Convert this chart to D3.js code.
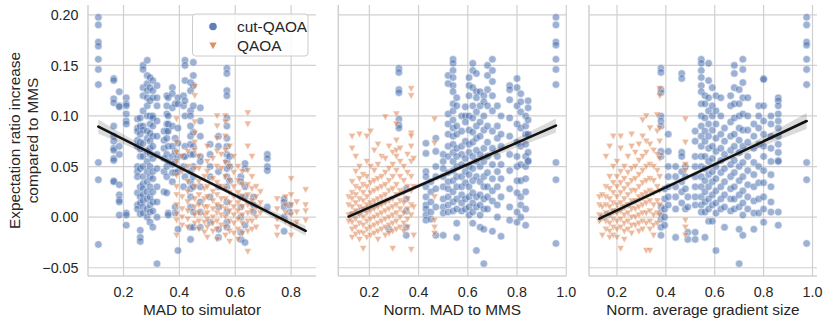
<!DOCTYPE html>
<html>
<head>
<meta charset="utf-8">
<script src="https://cdn.jsdelivr.net/npm/d3@7"></script>
<style>
  body { margin: 0; background: #fff; }
  text { font-family: "Liberation Sans", Arial, sans-serif; fill: #262626; }
</style>
</head>
<body>
<svg width="831" height="325"></svg>
<script>
// ---- data: [x, [y values at that x]] ----
const cutMad = [
  [0.11, [0.1975,0.190,0.173,0.169,0.156,0.146,0.131,0.054,0.037,-0.027]],
  [0.165,[0.137,0.135,0.117,0.113,0.090,0.080,0.075,0.068,0.066,0.058,0.056,0.036,0.035]],
  [0.185,[0.124,0.110,0.109,0.070,0.062,0.032,0.022,0.017,0.015,0.002]],
  [0.21, [0.118,0.112,0.110,0.102,0.095,0.092,0.004,0.002,-0.008]],
  [0.25, [0.097,0.088,0.085,0.076,0.070,0.050,0.045,0.040,0.024,0.012,0.008]],
  [0.26, [0.098,0.090,0.082,0.074,0.067,0.060,0.048,0.030,0.020,0.014,0.003,-0.013,-0.020,-0.024]],
  [0.27, [0.150,0.146,0.128,0.120,0.105,0.090,0.086,0.073,0.060,0.050,0.040,0.033,0.028,0.022,0.016,0.010,0.004]],
  [0.285,[0.155,0.140,0.132,0.125,0.118,0.110,0.100,0.085,0.078,0.065,0.055,0.045,0.035,0.025,0.018,0.008,0.000]],
  [0.295,[0.138,0.128,0.115,0.100,0.092,0.083,0.075,0.068,0.062,0.050,0.040,0.030,0.020,0.012,0.005,-0.005]],
  [0.305,[0.135,0.125,0.118,0.100,0.098,0.090,0.080,0.070,0.058,0.045,0.038,0.025,0.015,0.006,-0.010]],
  [0.32, [0.130,0.118,0.110,0.095,0.080,0.062,0.048,0.030,0.015,0.000,-0.046]],
  [0.345,[0.085,0.076,0.068,0.058,0.045,0.025]],
  [0.355,[0.120,0.110,0.102,0.092,0.085,0.078,0.062,0.050,0.040,0.024]],
  [0.36, [0.118,0.100,0.092,0.085,0.070,0.055,0.004,0.002]],
  [0.375,[0.128,0.122,0.108,0.090,0.070,0.060,0.052,0.044,0.035]],
  [0.385,[0.112,0.078,0.065,0.055,0.044,0.010,0.004]],
  [0.395,[0.118,0.112,0.088,0.073,0.060,0.045,-0.012,-0.033]],
  [0.415,[0.120,0.110,0.060,0.050,0.030]],
  [0.42, [0.155,0.150,0.135,0.115,0.100,0.070,0.060,0.040]],
  [0.44, [0.133,0.125,0.105,0.100,0.090,0.080,0.072,0.062,0.045,0.035,0.028,0.020,0.010,-0.010,-0.022]],
  [0.45, [0.153,0.140,0.130,0.110,0.084,0.070,0.062,0.050,0.040,0.030,0.005,-0.010]],
  [0.475,[0.108,0.095,0.080,0.060,0.055,0.030,0.015,0.005,-0.010]],
  [0.51, [0.072,0.062,0.050,0.040,0.020,-0.005]],
  [0.54, [0.080,0.070,0.045,0.030,0.010,-0.012,-0.020]],
  [0.57, [0.147,0.142,0.125,0.120,0.098,0.090,0.078,0.070,0.062,0.055,0.048,0.040,0.030,0.015,0.005,-0.005,-0.010]],
  [0.58, [0.060,0.050,0.036]],
  [0.62, [0.040,0.035,0.020,0.010,0.000,-0.015,-0.022]],
  [0.635,[0.053,0.048,0.030,0.020,-0.008,-0.025]],
  [0.665,[0.020,0.012,0.005]],
  [0.715,[0.062,0.058,0.050,0.046,0.010]],
  [0.775,[0.018,0.015,0.010,0.000,-0.014]],
  [0.795,[0.012,0.005]]
];

const qaoaMad = [
  [0.39, [0.097,0.074,0.064,0.055,0.041,0.030,0.022,0.012,0.003,-0.003,-0.018]],
  [0.41, [0.060,0.045,0.020,0.008,0.000,-0.008]],
  [0.43, [0.065,0.050,0.035,0.025,0.015,0.006,-0.002,-0.010]],
  [0.455,[0.129,0.120,0.094,0.083,0.074,0.066,0.048,0.030,0.018,0.010,0.002,-0.006]],
  [0.47, [0.060,0.048,0.035,0.022,0.012,0.004,-0.004,-0.012]],
  [0.49, [0.040,0.028,0.018,0.010,0.002,-0.005,-0.015]],
  [0.50, [0.070,0.055,0.045,0.030,0.020,0.010,0.004,-0.002,-0.010,-0.020]],
  [0.52, [0.058,0.038,0.025,0.016,0.008,0.000,-0.006,-0.014]],
  [0.535,[0.100,0.090,0.078,0.065,0.050,0.034,0.022,0.012,0.004,-0.004,-0.012,-0.022]],
  [0.55, [0.062,0.048,0.030,0.018,0.010,0.002,-0.008]],
  [0.565,[0.100,0.094,0.080,0.066,0.054,0.040,0.028,0.018,0.008,0.000,-0.010,-0.018]],
  [0.58, [0.070,0.050,0.036,0.024,0.014,0.006,-0.004,-0.014,-0.024]],
  [0.595,[0.060,0.044,0.030,0.020,0.010,0.002,-0.006,-0.016]],
  [0.61, [0.050,0.036,0.024,0.014,0.006,-0.002,-0.012,-0.022]],
  [0.625,[0.045,0.032,0.020,0.010,0.002,-0.006,-0.016]],
  [0.645,[0.103,0.092,0.070,0.046,0.032,0.022,0.012,0.004,-0.004,-0.014,-0.034]],
  [0.66, [0.060,0.040,0.028,0.016,0.006,-0.004,-0.012]],
  [0.675,[0.030,0.020,0.010,0.000,-0.010]],
  [0.69, [0.025,0.014,0.004]],
  [0.75, [0.018,0.008,-0.002,-0.010,-0.018]],
  [0.78, [0.020,0.012,0.004,-0.004]],
  [0.80, [0.038,0.022,0.012,0.002,-0.008,-0.018]],
  [0.82, [0.015,0.005,-0.005]],
  [0.852,[0.027,0.012,0.006,-0.003]]
];

const cutNormMad = [
  [0.28, [-0.012]],
  [0.32, [0.147,0.143,0.126,0.123,0.097,0.091,0.088]],
  [0.35, [0.028,0.018,0.006,-0.010,-0.018]],
  [0.43, [0.073,0.063,0.045,0.040,0.030,0.020,0.012,0.008,0.002,-0.003]],
  [0.45, [0.035,0.025,0.015,0.005,-0.002]],
  [0.47, [0.078,0.065,0.050,0.040,0.028,0.010,-0.018]],
  [0.50, [0.062,0.055,0.048,0.040,0.030,0.018,0.010,0.004,-0.018]],
  [0.52, [0.140,0.132,0.102,0.092,0.082,0.070,0.060,0.044,0.035,0.028,0.020,0.012,0.005]],
  [0.54, [0.156,0.152,0.145,0.138,0.130,0.124,0.112,0.105,0.096,0.088,0.080,0.072,0.064,0.055,0.046,0.036,0.025,0.015,0.006]],
  [0.555,[0.118,0.110,0.090,0.082,0.068,0.060,0.050,0.040,0.030,0.018,0.008,-0.006,-0.020]],
  [0.575,[0.100,0.085,0.070,0.062,0.052,0.040,0.030,0.022,0.014,0.006]],
  [0.59, [0.109,0.100,0.094,0.075,0.058,0.045,0.034,0.018,0.008]],
  [0.605,[0.138,0.130,0.120,0.100,0.086,0.072,0.064,0.050,0.042,0.030,0.020,0.010,0.002]],
  [0.62, [0.152,0.145,0.128,0.110,0.098,0.084,0.074,0.060,0.048,0.036,0.024,0.014,0.005,-0.006]],
  [0.635,[0.142,0.124,0.118,0.104,0.090,0.078,0.066,0.055,0.040,0.020,0.010,-0.033]],
  [0.65, [0.124,0.110,0.094,0.080,0.062,0.050,0.035,0.022,0.012,0.002,-0.010]],
  [0.665,[0.120,0.114,0.100,0.086,0.068,0.055,0.040,0.030,0.018,0.008,-0.012,-0.046]],
  [0.68, [0.150,0.140,0.126,0.110,0.090,0.074,0.060,0.044,0.030,0.020,0.008]],
  [0.70, [0.156,0.145,0.134,0.120,0.105,0.085,0.068,0.052,0.038,0.026,0.016,-0.014]],
  [0.72, [0.110,0.090,0.078,0.060,0.045,0.030,0.012,0.000]],
  [0.735,[0.100,0.082,0.070,0.052,0.038,0.020,-0.019]],
  [0.77, [0.130,0.126,0.116,0.098,0.080,0.062,0.046,0.028,0.010,-0.003]],
  [0.80, [0.137,0.128,0.110,0.092,0.074,0.060,0.050,0.036,0.024,0.005,-0.005]],
  [0.815,[0.122,0.114,0.104,0.088,0.070,0.052,0.036,0.020,0.012,0.000]],
  [0.835,[0.100,0.090,0.082,0.072,0.060,0.050,0.038,0.025,0.008,-0.008]],
  [0.845,[0.115,0.108,0.096,0.082,0.064,0.056,0.055]],
  [0.958,[0.1975,0.190,0.173,0.170,0.156,0.146,0.131,0.054,0.037,-0.026]]
];

const qaoaNormMad = [
  [0.116,[0.020,0.012,0.002,-0.004]],
  [0.13, [0.080,0.068,0.035,0.024,0.018,0.010,0.003,-0.005,-0.012,-0.020]],
  [0.145,[0.060,0.045,0.030,0.022,0.014,0.006,-0.002,-0.010,-0.017]],
  [0.16, [0.082,0.050,0.038,0.028,0.018,0.010,0.002,-0.006,-0.015,-0.022]],
  [0.175,[0.042,0.032,0.024,0.016,0.008,0.000,-0.008,-0.016,-0.031]],
  [0.19, [0.080,0.055,0.040,0.030,0.020,0.012,0.004,-0.004,-0.012,-0.020]],
  [0.205,[0.085,0.050,0.034,0.024,0.014,0.006,-0.002,-0.010,-0.018]],
  [0.22, [0.066,0.046,0.036,0.026,0.016,0.008,0.000,-0.008,-0.016]],
  [0.235,[0.072,0.052,0.038,0.028,0.018,0.010,0.002,-0.006,-0.014,-0.022]],
  [0.25, [0.060,0.040,0.030,0.020,0.012,0.004,-0.004,-0.012]],
  [0.265,[0.099,0.058,0.044,0.032,0.022,0.014,0.006,-0.002,-0.010,-0.018]],
  [0.28, [0.070,0.048,0.036,0.026,0.016,0.008,0.000,-0.008,-0.016]],
  [0.295,[0.064,0.052,0.040,0.028,0.018,0.010,0.002,-0.006,-0.014,-0.031]],
  [0.31, [0.102,0.092,0.076,0.066,0.060,0.046,0.032,0.022,0.012,0.004,-0.004,-0.012]],
  [0.325,[0.068,0.055,0.040,0.026,0.016,0.008,0.000,-0.010]],
  [0.34, [0.050,0.036,0.024,0.014,0.004,-0.006,-0.014]],
  [0.355,[0.062,0.044,0.030,0.018,0.008,-0.002,-0.010]],
  [0.37, [0.127,0.120,0.083,0.080,0.070,0.055,0.040,0.026,0.012,0.002,-0.032]],
  [0.38, [0.058,0.030,0.010,-0.018]],
  [0.465,[0.097,0.073,0.020,-0.003,-0.010,-0.016]]
];

const cutGrad = [
  [0.38, [0.147,0.143,0.126,0.123,0.100,0.095,0.090,0.065,0.060,0.010,0.004,-0.002,-0.010,-0.018]],
  [0.395,[0.028,0.018,0.008,0.000,-0.008]],
  [0.41, [0.082,0.065,0.050,0.040,0.030,0.020,0.012]],
  [0.44, [0.050,0.040,0.030,0.020,0.008,-0.020]],
  [0.465,[0.142,0.137,0.064,0.060,0.045,0.035,0.025,0.014]],
  [0.48, [0.050,0.040,0.028,0.008]],
  [0.49, [0.020,0.010,-0.015,-0.022]],
  [0.52, [0.085,0.075,0.060,0.050,0.040,0.030,0.020,0.012,-0.015,-0.022]],
  [0.545,[0.156,0.152,0.145,0.138,0.130,0.124,0.112,0.100,0.090,0.080,0.070,0.060,0.050,0.040,0.030,0.020,0.012,0.005]],
  [0.56, [0.120,0.112,0.098,0.085,0.075,0.060,0.048,0.036,0.025,0.015,0.005,-0.020]],
  [0.575,[0.152,0.135,0.118,0.105,0.092,0.080,0.068,0.055,0.042,0.030,0.018,0.008,-0.004]],
  [0.59, [0.128,0.110,0.100,0.086,0.070,0.058,0.045,0.035,0.022,0.012,-0.004]],
  [0.605,[0.120,0.105,0.092,0.078,0.065,0.050,0.038,0.026,0.014,0.004,-0.033]],
  [0.625,[0.118,0.100,0.082,0.068,0.056,0.044,0.030,0.018,0.008]],
  [0.64, [0.088,0.075,0.062,0.048,0.035,0.022,0.010,-0.010]],
  [0.665,[0.120,0.110,0.094,0.080,0.066,0.052,0.040,0.028,0.018,0.006]],
  [0.68, [0.150,0.142,0.128,0.112,0.098,0.082,0.070,0.056,0.044,0.030,0.018,0.008]],
  [0.70, [0.126,0.112,0.100,0.088,0.076,0.064,0.050,0.036,0.022,0.010,-0.012,-0.046]],
  [0.715,[0.156,0.146,0.133,0.118,0.102,0.086,0.070,0.054,0.040,0.026,0.014,0.002,-0.018]],
  [0.735,[0.118,0.100,0.086,0.074,0.060,0.046,0.032,0.020,0.008]],
  [0.76, [0.092,0.080,0.068,0.054,0.042,0.030,0.016,0.004,-0.012]],
  [0.78, [0.110,0.100,0.088,0.072,0.050,0.034,0.018,0.004]],
  [0.80, [0.137,0.136,0.110,0.095,0.082,0.070,0.060,0.046,0.034,0.020,0.008,-0.005]],
  [0.83, [0.100,0.092,0.080,0.068,0.055,0.042,0.030,0.015,0.005]],
  [0.86, [0.118,0.115,0.110,0.102,0.095,0.088,0.080,0.072,0.064,0.056,0.055,0.005,-0.008]],
  [0.976,[0.1975,0.190,0.173,0.170,0.156,0.146,0.131,0.054,0.037,-0.026]]
];

const qaoaGrad = [
  [0.128,[0.020,0.012,0.002,-0.004]],
  [0.14, [0.022,0.010,0.000,-0.018]],
  [0.155,[0.060,0.030,0.020,0.012,0.004,-0.004,-0.012]],
  [0.17, [0.070,0.040,0.028,0.018,0.010,0.002,-0.006,-0.014,-0.020]],
  [0.185,[0.080,0.050,0.034,0.024,0.014,0.006,-0.002,-0.010,-0.018]],
  [0.20, [0.055,0.040,0.030,0.020,0.012,0.004,-0.004,-0.012,-0.020]],
  [0.215,[0.080,0.068,0.045,0.034,0.024,0.014,0.006,-0.002,-0.010,-0.031]],
  [0.23, [0.050,0.038,0.028,0.018,0.010,0.002,-0.006,-0.014,-0.022]],
  [0.245,[0.060,0.044,0.032,0.022,0.012,0.004,-0.004,-0.012]],
  [0.26, [0.082,0.070,0.048,0.036,0.026,0.016,0.008,0.000,-0.008,-0.016]],
  [0.275,[0.064,0.050,0.038,0.026,0.016,0.008,0.000,-0.008]],
  [0.29, [0.072,0.056,0.042,0.030,0.020,0.010,0.002,-0.006,-0.014]],
  [0.305,[0.096,0.080,0.060,0.046,0.034,0.022,0.012,0.004,-0.004,-0.012]],
  [0.32, [0.100,0.075,0.064,0.050,0.036,0.024,0.014,0.004,-0.006,-0.033]],
  [0.335,[0.088,0.072,0.052,0.038,0.026,0.016,0.006,-0.004,-0.012,-0.033]],
  [0.35, [0.066,0.050,0.036,0.024,0.012,0.002,-0.008,-0.018]],
  [0.365,[0.101,0.085,0.062,0.046,0.030,0.016,0.004,-0.006]],
  [0.375,[0.127,0.120,0.088,0.075,0.058,0.040,0.026,0.012,0.002]],
  [0.48, [0.097,0.074,0.052,0.046,-0.003,-0.010,-0.018]]
];

// regression line ends and CI half-widths [x, halfwidth]
const fitMad = [[0.11, 0.0895], [0.852, -0.0135]];
const ciMad = [[0.11, 0.007], [0.3, 0.003], [0.48, 0.002], [0.65, 0.0025], [0.852, 0.005]];
const fitNormMad = [[0.116, 0.0005], [0.958, 0.0905]];
const ciNormMad = [[0.116, 0.004], [0.3, 0.0025], [0.5, 0.002], [0.75, 0.004], [0.958, 0.007]];
const fitGrad = [[0.128, -0.0015], [0.976, 0.095]];
const ciGrad = [[0.128, 0.004], [0.3, 0.0025], [0.5, 0.002], [0.75, 0.004], [0.976, 0.008]];

const yTicks = [-0.05, 0, 0.05, 0.10, 0.15, 0.20];
const xTicksMad = [0.2, 0.4, 0.6, 0.8];
const xTicksNorm = [0.2, 0.4, 0.6, 0.8, 1.0];
const seriesNames = ["cut-QAOA", "QAOA"];
const yLabelLines = ["Expectation ratio increase", "compared to MMS"];

const blue = "#4c72b0", orange = "#dd8452", grid = "#d0d0d0";

let flat = cols => cols.flatMap(([x, ys]) => ys.map(y => ({x: x, y: y})));
let pad = ext => { let d = (ext[1] - ext[0]) * 0.05; return [ext[0] - d, ext[1] + d]; };

let panels = [
  {left: 88,    cut: flat(cutMad),     qaoa: flat(qaoaMad),     fit: fitMad,     ci: ciMad,     ticks: xTicksMad,  label: "MAD to simulator"},
  {left: 338.3, cut: flat(cutNormMad), qaoa: flat(qaoaNormMad), fit: fitNormMad, ci: ciNormMad, ticks: xTicksNorm, label: "Norm. MAD to MMS"},
  {left: 589,   cut: flat(cutGrad),    qaoa: flat(qaoaGrad),    fit: fitGrad,    ci: ciGrad,    ticks: xTicksNorm, label: "Norm. average gradient size"}
];
let plotW = 228, plotTop = 5, plotBottom = 276;

let allY = panels.flatMap(p => p.cut.concat(p.qaoa).map(d => d.y));
let y = d3.scaleLinear().domain(pad(d3.extent(allY))).range([plotBottom, plotTop]);

let svg = d3.select("svg");
let tri = "M0,3.7L-3.7,-3L3.7,-3Z";

panels.forEach((p, i) => {
  let pts = p.cut.concat(p.qaoa);
  let x = d3.scaleLinear().domain(pad(d3.extent(pts, d => d.x))).range([p.left, p.left + plotW]);
  let g = svg.append("g");

  // grid
  g.selectAll(".gx").data(p.ticks).enter().append("line")
    .attr("x1", d => x(d)).attr("x2", d => x(d)).attr("y1", plotTop).attr("y2", plotBottom)
    .attr("stroke", grid).attr("stroke-width", 1.2);
  g.selectAll(".gy").data(yTicks).enter().append("line")
    .attr("x1", p.left).attr("x2", p.left + plotW).attr("y1", d => y(d)).attr("y2", d => y(d))
    .attr("stroke", grid).attr("stroke-width", 1.2);

  // points
  g.selectAll(".cut").data(p.cut).enter().append("circle")
    .attr("cx", d => x(d.x)).attr("cy", d => y(d.y)).attr("r", 3.8)
    .attr("fill", blue).attr("stroke", "#fff").attr("stroke-width", 0.6).attr("opacity", 0.55);
  g.selectAll(".qaoa").data(p.qaoa).enter().append("path")
    .attr("d", tri).attr("transform", d => "translate(" + x(d.x) + "," + y(d.y) + ")")
    .attr("fill", orange).attr("stroke", "#fff").attr("stroke-width", 0.6).attr("opacity", 0.55);

  // regression + CI band
  let [a, b] = p.fit;
  let line = v => a[1] + (b[1] - a[1]) * (v - a[0]) / (b[0] - a[0]);
  g.append("path").datum(p.ci)
    .attr("d", d3.area().curve(d3.curveNatural)
      .x(d => x(d[0])).y0(d => y(line(d[0]) - d[1])).y1(d => y(line(d[0]) + d[1])))
    .attr("fill", "#000").attr("fill-opacity", 0.14);
  g.append("line")
    .attr("x1", x(a[0])).attr("y1", y(a[1])).attr("x2", x(b[0])).attr("y2", y(b[1]))
    .attr("stroke", "#111").attr("stroke-width", 2.6).attr("stroke-linecap", "round");

  // spines
  g.append("line").attr("x1", p.left).attr("x2", p.left).attr("y1", plotTop).attr("y2", plotBottom)
    .attr("stroke", grid).attr("stroke-width", 1.5);
  g.append("line").attr("x1", p.left).attr("x2", p.left + plotW).attr("y1", plotBottom).attr("y2", plotBottom)
    .attr("stroke", grid).attr("stroke-width", 1.5);

  // x tick labels + label
  g.selectAll(".xt").data(p.ticks).enter().append("text")
    .attr("x", d => x(d)).attr("y", 296.5).attr("text-anchor", "middle")
    .style("font-size", "14.3px").text(d3.format(".1f"));
  g.append("text").attr("x", p.left + plotW / 2).attr("y", 315).attr("text-anchor", "middle")
    .style("font-size", "15.4px").text(p.label);

  if (i == 0) {
    g.selectAll(".yt").data(yTicks).enter().append("text")
      .attr("x", 78.5).attr("y", d => y(d)).attr("dy", "0.36em").attr("text-anchor", "end")
      .style("font-size", "14.3px").text(d3.format(".2f"));
    yLabelLines.forEach((t, k) => {
      g.append("text").attr("transform", "translate(" + (20 + k * 17.5) + "," + (plotTop + plotBottom) / 2 + ") rotate(-90)")
        .attr("text-anchor", "middle").style("font-size", "15.4px").text(t);
    });

    // legend
    let lg = g.append("g");
    lg.append("rect").attr("x", 192.5).attr("y", 14).attr("width", 115.5).attr("height", 42).attr("rx", 3)
      .attr("fill", "#fff").attr("fill-opacity", 0.8).attr("stroke", "#ccc");
    lg.append("circle").attr("cx", 213).attr("cy", 26.5).attr("r", 3.8).attr("fill", blue).attr("opacity", 0.9);
    lg.append("path").attr("d", tri).attr("transform", "translate(213,45.5)").attr("fill", orange).attr("opacity", 0.9);
    seriesNames.forEach((s, k) => {
      lg.append("text").attr("x", 237).attr("y", 31.5 + k * 19).style("font-size", "15.4px").text(s);
    });
  }
});
</script>
</body>
</html>
